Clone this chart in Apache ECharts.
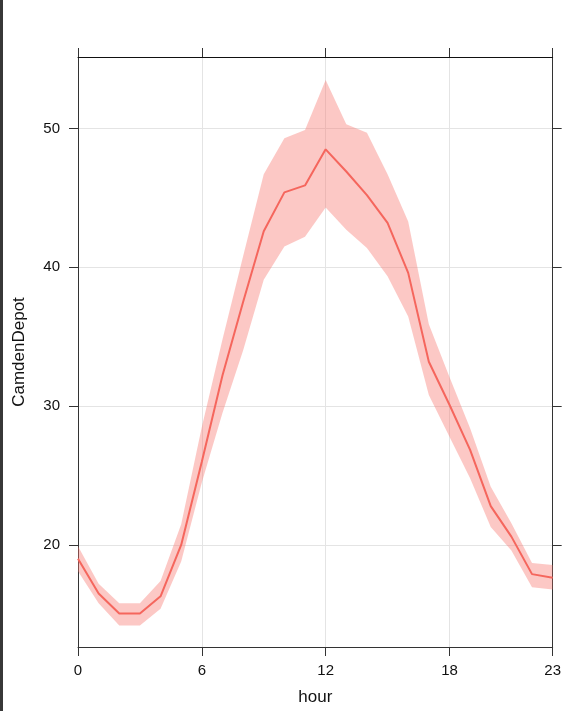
<!DOCTYPE html>
<html>
<head>
<meta charset="utf-8">
<script src="https://cdn.jsdelivr.net/npm/echarts@6/dist/echarts.min.js"></script>
<style>
html,body{margin:0;padding:0;background:#fff;}
#chart{width:564px;height:711px;}
</style>
</head>
<body>
<div id="chart"></div>
<script>
const hours = [0,1,2,3,4,5,6,7,8,9,10,11,12,13,14,15,16,17,18,19,20,21,22,23];
const meanValues = [19.0,16.5,15.07,15.07,16.3,20.0,26.0,32.2,37.5,42.6,45.4,45.9,48.5,46.9,45.2,43.2,39.6,33.2,30.1,26.85,22.8,20.6,17.9,17.64];
const upperValues = [19.9,17.2,15.8,15.8,17.4,21.5,28.5,34.8,40.8,46.7,49.3,49.9,53.5,50.3,49.7,46.7,43.3,35.9,32.1,28.4,24.2,21.56,18.7,18.55];
const lowerValues = [18.1,15.8,14.2,14.2,15.4,18.8,24.5,29.5,34.0,39.1,41.5,42.2,44.3,42.7,41.4,39.35,36.45,30.8,27.8,24.8,21.3,19.6,16.95,16.8];
const xTicks = [0,6,12,18,23];
const yTicks = [20,30,40,50];
const xTitle = 'hour';
const yTitle = 'CamdenDepot';

const lineColor = '#f5665d';
const bandColor = 'rgba(248,118,109,0.4)';
const axisColor = '#333';
const font = 'Liberation Sans, Arial, sans-serif';

const chart = echarts.init(document.getElementById('chart'), null, {renderer: 'canvas'});

function axisCommon(ticks, showLabel, showSplit, lineCol) {
  return {
    axisLine: {show: true, onZero: false, lineStyle: {color: lineCol || axisColor, width: 1}},
    axisTick: {show: true, inside: false, length: 9, customValues: ticks, lineStyle: {color: axisColor, width: 1}},
    axisLabel: {show: showLabel, customValues: ticks, color: '#111', fontFamily: font, fontSize: 15},
    splitLine: {show: showSplit, lineStyle: {color: '#e4e4e4', width: 1}}
  };
}

const bandData = hours.map((h, i) => [h, lowerValues[i], upperValues[i]]);

function renderBand(params, api) {
  if (params.dataIndex !== 0) return null;
  const pts = [];
  for (let i = 0; i < bandData.length; i++) pts.push(api.coord([bandData[i][0], bandData[i][2]]));
  for (let i = bandData.length - 1; i >= 0; i--) pts.push(api.coord([bandData[i][0], bandData[i][1]]));
  return {
    type: 'polygon',
    shape: {points: pts},
    style: {fill: bandColor, stroke: null}
  };
}

const option = {
  animation: false,
  backgroundColor: '#fff',
  grid: {left: 78, right: 10, top: 57, bottom: 64, containLabel: false},
  xAxis: [
    Object.assign({type: 'value', min: 0, max: 23, interval: 6, position: 'bottom',
      name: xTitle, nameLocation: 'middle', nameGap: 42,
      nameTextStyle: {color: '#111', fontFamily: font, fontSize: 17}}, axisCommon(xTicks, true, true),
      {axisLabel: {show: true, customValues: xTicks, color: '#111', fontFamily: font, fontSize: 15, margin: 16}}),
    Object.assign({type: 'value', min: 0, max: 23, interval: 6, position: 'top'}, axisCommon(xTicks, false, false, '#111'))
  ],
  yAxis: [
    Object.assign({type: 'value', min: 12.65, max: 55.15, position: 'left',
      name: yTitle, nameLocation: 'middle', nameGap: 50, nameRotate: 90,
      nameTextStyle: {color: '#111', fontFamily: font, fontSize: 17}}, axisCommon(yTicks, true, true),
      {axisLabel: {show: true, customValues: yTicks, color: '#111', fontFamily: font, fontSize: 15, margin: 18}}),
    Object.assign({type: 'value', min: 12.65, max: 55.15, position: 'right'}, axisCommon(yTicks, false, false))
  ],
  graphic: [
    {type: 'rect', left: 0, top: 0, shape: {width: 3, height: 711}, style: {fill: '#383838'}, silent: true}
  ],
  series: [
    {
      type: 'custom', name: 'band', silent: true,
      xAxisIndex: 0, yAxisIndex: 0,
      renderItem: renderBand,
      encode: {x: 0, y: [1, 2]},
      data: bandData,
      z: 1
    },
    {
      type: 'line', name: 'mean', symbol: 'none', silent: true,
      xAxisIndex: 0, yAxisIndex: 0,
      lineStyle: {color: lineColor, width: 2},
      data: hours.map((h, i) => [h, meanValues[i]]),
      z: 2
    }
  ]
};
chart.setOption(option);
</script>
</body>
</html>
